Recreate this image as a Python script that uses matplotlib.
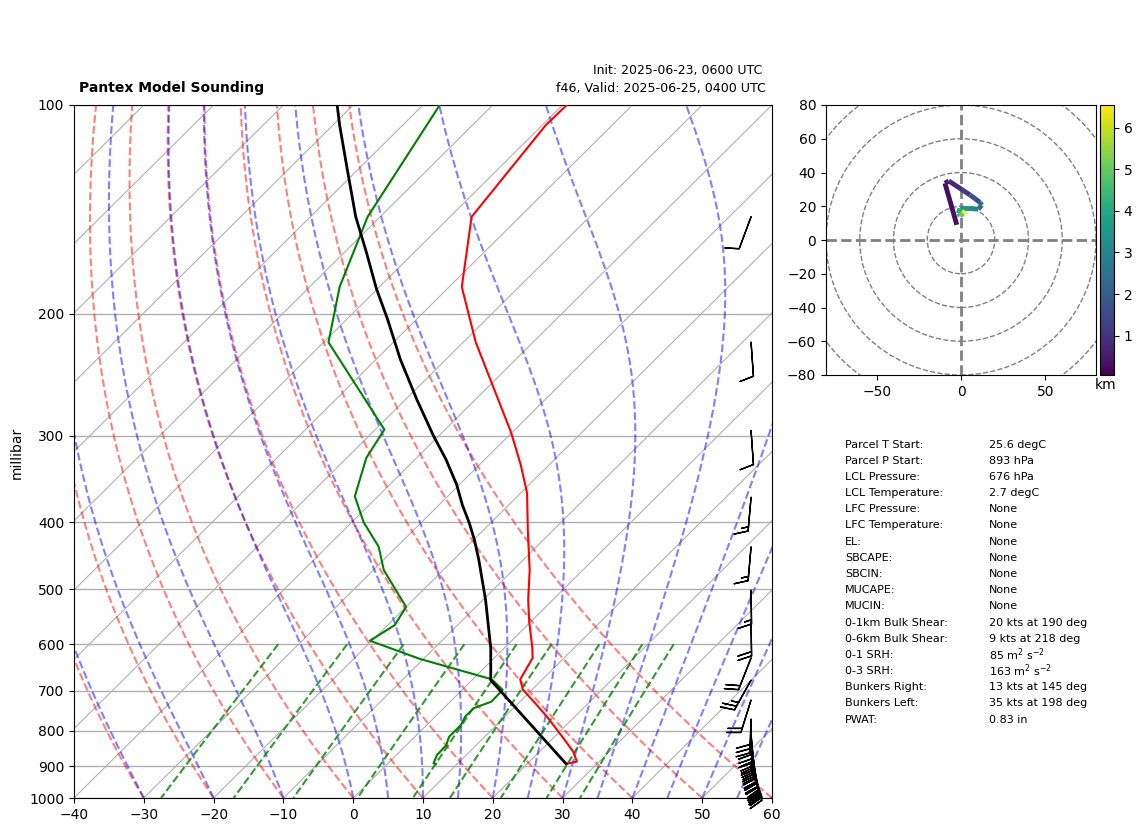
import numpy as np
import matplotlib
matplotlib.use("Agg")
import matplotlib.pyplot as plt
from matplotlib.collections import LineCollection
from matplotlib.patches import Circle
from matplotlib.ticker import NullFormatter, NullLocator
from matplotlib.transforms import Affine2D

W, H = 1142, 832

## sounding
temp_p = [100, 107, 145, 183, 220, 297, 331, 363, 411, 469, 518, 557, 606, 628, 674, 697, 729, 763, 820, 857, 886, 893]
temp_c = [-69.4, -69.5, -66.9, -58.2, -48.2, -30.1, -24.0, -19.1, -13.6, -7.6, -3.5, -0.2, 3.9, 5.5, 6.8, 8.6, 12.3, 16.0, 21.5, 24.8, 26.8, 25.6]

dewp_p = [100, 145, 183, 220, 294, 323, 367, 400, 434, 469, 530, 563, 593, 630, 674, 698, 726, 742, 763, 785, 816, 839, 867, 891, 893]
dewp_c = [-87.6, -81.8, -75.7, -69.3, -48.7, -47.2, -43.3, -38.3, -32.6, -28.5, -20.0, -19.0, -20.3, -10.5, 2.7, 5.8, 5.9, 4.3, 4.3, 4.9, 4.9, 5.7, 5.8, 6.5, 6.9]

parcel_p = [893, 676, 608, 518, 453, 424, 400, 378, 353, 325, 300, 266, 233, 204, 184, 163, 145, 124, 107, 100]
parcel_c = [25.6, 2.7, -1.9, -9.6, -16.4, -19.9, -23.2, -26.6, -30.4, -35.5, -40.8, -48.4, -56.5, -64.1, -70.2, -76.9, -83.5, -91.5, -99.0, -102.3]

## barbs
barb_p = [145, 220, 295, 368, 434, 501, 557, 628, 676, 722, 769, 795, 813, 830, 847, 861, 876, 887, 896, 905]
barb_u = [3.5, -0.7, -0.7, 1.3, 1.3, -0.2, -0.3, 7.5, 12.2, 6.1, 1, -1, -3, -4, -5, -6, -7, -8, -9, -9]
barb_v = [9.4, 10, 10, 14.9, 14.9, 15, 20, 19, 21.8, 19.5, 30, 30, 30, 30, 29, 29, 28, 28, 27, 27]

## hodograph
hodo_u = [-2.5, -9.5, -7.3, 0.4, 5.3, 11.3, 12.2, 10.3, 5.3, -0.6, -1.6, -0.6, 1.4, 2.4]
hodo_v = [9, 33.6, 35, 30, 26.7, 22.3, 20.7, 18.2, 18.8, 18.8, 15.8, 14.2, 15.8, 17.4]
hodo_h = [0.05, 0.3, 0.5, 0.8, 1.1, 1.6, 2.0, 2.5, 3.0, 3.4, 4.0, 4.5, 5.0, 6.55]

## background lines
isotherms = list(range(-140, 61, 10))
dry_t0 = [-40, -30, -20, -10, 0, 10, 20, 30, 40, 50, 60]
moist_t0 = [-40, -30, -20, -10, 0, 5, 10, 15, 20, 25, 30, 35, 40, 45, 50, 55, 60]
mix_w = [0.0004, 0.001, 0.002, 0.004, 0.007, 0.01, 0.016, 0.024, 0.032]

stat_names = ["Parcel T Start:", "Parcel P Start:", "LCL Pressure:", "LCL Temperature:", "LFC Pressure:",
              "LFC Temperature:", "EL:", "SBCAPE:", "SBCIN:", "MUCAPE:", "MUCIN:", "0-1km Bulk Shear:",
              "0-6km Bulk Shear:", "0-1 SRH:", "0-3 SRH:", "Bunkers Right:", "Bunkers Left:", "PWAT:"]
stat_vals = ["25.6 degC", "893 hPa", "676 hPa", "2.7 degC", "None", "None", "None", "None", "None", "None", "None",
             "20 kts at 190 deg", "9 kts at 218 deg", r"85 m$^2$ s$^{-2}$", r"163 m$^2$ s$^{-2}$",
             "13 kts at 145 deg", "35 kts at 198 deg", "0.83 in"]
stat_y = [445, 461, 477, 493, 509, 525, 542, 558, 574, 590, 606, 623, 639, 655, 671, 687, 703, 720]


def px_axes(fig, x0, x1, y0, y1):
    return fig.add_axes([x0 / W, 1 - y1 / H, (x1 - x0) / W, (y1 - y0) / H])


def moist_lapse(t0, p):
    # RK4 up from the first pressure
    def grad(t, pr):
        es = 6.112 * np.exp(17.67 * (t - 273.15) / (t - 29.65))
        rs = 0.62197 * es / (pr - es)
        return (287.05 * t + 2.501e6 * rs) / (1005.7 + 2.501e6 ** 2 * rs * 0.62197 / (287.05 * t ** 2)) / pr

    out = [t0 + 273.15]
    for i in range(len(p) - 1):
        h = p[i + 1] - p[i]
        t = out[-1]
        k1 = grad(t, p[i])
        k2 = grad(t + h * k1 / 2, p[i] + h / 2)
        k3 = grad(t + h * k2 / 2, p[i] + h / 2)
        k4 = grad(t + h * k3, p[i] + h)
        out.append(t + h * (k1 + 2 * k2 + 2 * k3 + k4) / 6)
    return np.array(out) - 273.15


fig = plt.figure(figsize=(W / 100, H / 100), dpi=100)

ax = px_axes(fig, 74, 772, 105, 798)
ax.set_yscale("log")
ax.set_xlim(-40, 60)
ax.set_ylim(1000, 100)
ax.autoscale(False)
ax.set_yticks(range(100, 1001, 100))
ax.set_yticklabels([str(p) for p in range(100, 1001, 100)])
ax.yaxis.set_minor_locator(NullLocator())
ax.yaxis.set_minor_formatter(NullFormatter())
ax.set_xticks(range(-40, 61, 10))
ax.yaxis.grid(True, color="#b0b0b0", lw=1.0)
ax.set_axisbelow(True)

skew = ax.transScale + ax.transLimits + Affine2D().skew_deg(45, 0) + ax.transAxes

for t in isotherms:
    ax.plot([t, t], [1000, 100], color="#b0b0b0", lw=0.8, transform=skew, zorder=1)

p_grid = np.linspace(1000, 100, 100)
for t in dry_t0:
    ax.plot((t + 273.15) * (p_grid / 1000) ** 0.2857 - 273.15, p_grid, color="r", ls="--", lw=1.5, alpha=0.5,
            transform=skew, zorder=1.5)
for t in moist_t0:
    ax.plot(moist_lapse(t, p_grid), p_grid, color="b", ls="--", lw=1.5, alpha=0.5, transform=skew, zorder=1.5)

p_mix = np.linspace(600, 1000, 50)
for w in mix_w:
    e = np.log(p_mix * w / (0.62197 + w) / 6.112)
    ax.plot(243.5 * e / (17.67 - e), p_mix, color="g", ls="--", lw=1.5, alpha=0.8, transform=skew, zorder=1.5)

ax.plot(temp_c, temp_p, color="r", lw=1.5, transform=skew, zorder=3)
ax.plot(dewp_c, dewp_p, color="g", lw=1.5, transform=skew, zorder=3)
ax.plot(parcel_c, parcel_p, color="k", lw=2, transform=skew, zorder=3)

ax.barbs(np.full(len(barb_p), 0.97), barb_p, barb_u, barb_v, transform=ax.get_yaxis_transform(), clip_on=False,
         zorder=4)

ax.set_ylabel("millibar", fontsize=10)
ax.yaxis.set_label_coords((24 - 74) / 698, 0.498)

fig.text(79 / W, 1 - 88 / H, "Pantex Model Sounding", fontsize=10, fontweight="bold", va="center")
fig.text(762 / W, 1 - 70.5 / H, "Init: 2025-06-23, 0600 UTC", fontsize=9, ha="right", va="center")
fig.text(766 / W, 1 - 88.5 / H, "f46, Valid: 2025-06-25, 0400 UTC", fontsize=9.1, ha="right", va="center")

## hodograph panel
hax = px_axes(fig, 826, 1096, 105, 375)
hax.set_xlim(-80, 80)
hax.set_ylim(-80, 80)
hax.set_xticks([-50, 0, 50])
hax.set_yticks(range(-80, 81, 20))
for r in [20, 40, 60, 80, 100]:
    hax.add_patch(Circle((0, 0), r, fill=False, ec="grey", ls="--", lw=1))
hax.axhline(0, color="grey", ls="--", lw=2)
hax.axvline(0, color="grey", ls="--", lw=2)

pts = np.column_stack([hodo_u, hodo_v]).reshape(-1, 1, 2)
segs = np.concatenate([pts[:-1], pts[1:]], axis=1)
lc = LineCollection(segs, cmap="viridis", lw=3.5, zorder=3)
lc.set_array(np.array(hodo_h[1:]))
lc.set_clim(min(hodo_h), max(hodo_h))
hax.add_collection(lc)

cax = px_axes(fig, 1100, 1114, 105, 375)
cb = fig.colorbar(lc, cax=cax)
cb.set_ticks([1, 2, 3, 4, 5, 6])
fig.text(1106 / W, 1 - 384.5 / H, "km", fontsize=10, ha="center", va="center")

## stats table
for name, val, y in zip(stat_names, stat_vals, stat_y):
    fig.text(845 / W, 1 - y / H, name, fontsize=8, va="center")
    fig.text(989 / W, 1 - y / H, val, fontsize=8, va="center")

fig.savefig("out.png", dpi=100)
